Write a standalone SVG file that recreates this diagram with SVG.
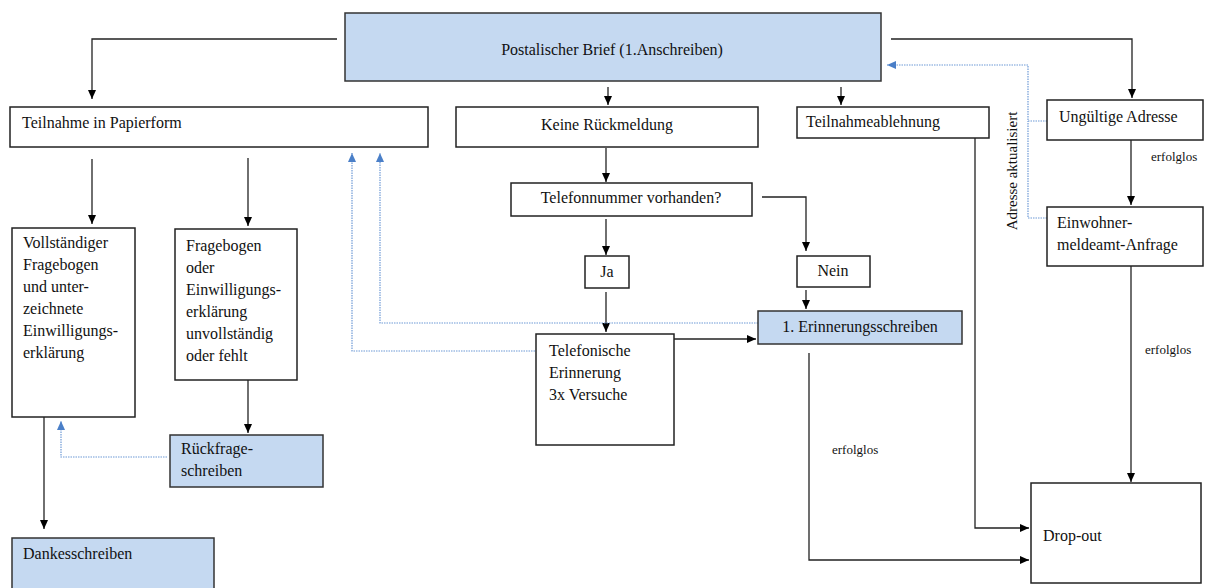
<svg xmlns="http://www.w3.org/2000/svg" width="1212" height="588" viewBox="0 0 1212 588">
<defs>
<marker id="ah" markerWidth="10" markerHeight="10" refX="9" refY="5" orient="auto" markerUnits="userSpaceOnUse"><path d="M0,1 L9,5 L0,9 Z" fill="#000"/></marker>
<marker id="bh" markerWidth="10" markerHeight="10" refX="9" refY="5" orient="auto" markerUnits="userSpaceOnUse"><path d="M0,1 L9,5 L0,9 Z" fill="#4a7fc8"/></marker>
</defs>
<style>
text{font-family:"Liberation Serif","Times New Roman",serif;font-size:16px;fill:#111}
.w{fill:#fff;stroke:#222;stroke-width:1.5}
.b{fill:#c5d9f1;stroke:#333;stroke-width:1.5}
.c{fill:none;stroke:#222;stroke-width:1.3}
.a{marker-end:url(#ah)}
.d{fill:none;stroke:#6e9ad6;stroke-width:1.2;stroke-dasharray:1.5 1}
.s{font-size:13px}
.r{font-size:15px}
.m{text-anchor:middle}
</style>
<rect width="1212" height="588" fill="#fff"/>
<g id="connectors">
<path class="c a" d="M337,39 H92 V99"/>
<path class="c a" d="M891,39 H1132 V98"/>
<path class="c a" d="M608,87 V105"/>
<path class="c a" d="M841,87 V105"/>
<path class="c a" d="M92,159 V224"/>
<path class="c a" d="M248,158 V226"/>
<path class="c a" d="M606,148 V182"/>
<path class="c a" d="M606,219 V255"/>
<path class="c a" d="M762,197 H806 V251"/>
<path class="c a" d="M606,292 V332"/>
<path class="c a" d="M806,290 V309"/>
<path class="c a" d="M674,339 V339 H756"/>
<path class="c a" d="M809,353 V560 H1029"/>
<path class="c a" d="M975,138 V528 H1029"/>
<path class="c a" d="M1131,140 V205"/>
<path class="c a" d="M1131,266 V482"/>
<path class="c a" d="M248,380 V433"/>
<path class="c a" d="M44,417 V529"/>
<path class="d" d="M758,323 H380 V153" marker-end="url(#bh)"/>
<path class="d" d="M535,351 H352 V153" marker-end="url(#bh)"/>
<path class="d" d="M167,457 H61 V421" marker-end="url(#bh)"/>
<path class="d" d="M1047,121 H1028 V65 H887" marker-end="url(#bh)"/>
<path class="d" d="M1047,218 H1028 V121"/>
<text class="s" x="832" y="454">erfolglos</text>
<text class="s" x="1151" y="161">erfolglos</text>
<text class="s" x="1145" y="354">erfolglos</text>
<text class="r m" x="0" y="0" transform="translate(1017,171) rotate(-90)">Adresse aktualisiert</text>
</g>
<g id="n-brief"><rect class="b" x="345" y="13" width="536" height="68"/><text class="m" x="612" y="55">Postalischer Brief (1.Anschreiben)</text></g>
<g id="n-papier"><rect class="w" x="10" y="107" width="418" height="40"/><text x="22" y="128">Teilnahme in Papierform</text></g>
<g id="n-keine"><rect class="w" x="456" y="107" width="302" height="40"/><text class="m" x="607" y="130">Keine Rückmeldung</text></g>
<g id="n-ablehnung"><rect class="w" x="797" y="107" width="192" height="31"/><text x="806" y="127">Teilnahmeablehnung</text></g>
<g id="n-ungueltig"><rect class="w" x="1047" y="100" width="156" height="40"/><text x="1059" y="122">Ungültige Adresse</text></g>
<g id="n-einwohner"><rect class="w" x="1047" y="207" width="156" height="59"/><text x="1057" y="228">Einwohner-</text><text x="1057" y="250">meldeamt-Anfrage</text></g>
<g id="n-telnr"><rect class="w" x="511" y="183" width="241" height="33"/><text class="m" x="631" y="203">Telefonnummer vorhanden?</text></g>
<g id="n-ja"><rect class="w" x="585" y="256" width="44" height="32"/><text class="m" x="607" y="277">Ja</text></g>
<g id="n-nein"><rect class="w" x="797" y="256" width="73" height="31"/><text class="m" x="833" y="276">Nein</text></g>
<g id="n-erinnerung"><rect class="b" x="758" y="311" width="204" height="33"/><text class="m" x="860" y="332">1. Erinnerungsschreiben</text></g>
<g id="n-telefon"><rect class="w" x="536" y="334" width="138" height="111"/><text x="549" y="356">Telefonische</text><text x="549" y="378">Erinnerung</text><text x="549" y="400">3x Versuche</text></g>
<g id="n-vollst"><rect class="w" x="12" y="228" width="123" height="189"/><text x="23" y="248">Vollständiger</text><text x="23" y="270">Fragebogen</text><text x="23" y="292">und unter-</text><text x="23" y="314">zeichnete</text><text x="23" y="336">Einwilligungs-</text><text x="23" y="358">erklärung</text></g>
<g id="n-frage"><rect class="w" x="175" y="229" width="122" height="151"/><text x="186" y="251">Fragebogen</text><text x="186" y="273">oder</text><text x="186" y="295">Einwilligungs-</text><text x="186" y="317">erklärung</text><text x="186" y="339">unvollständig</text><text x="186" y="361">oder fehlt</text></g>
<g id="n-rueckfrage"><rect class="b" x="170" y="435" width="153" height="52"/><text x="181" y="454">Rückfrage-</text><text x="181" y="476">schreiben</text></g>
<g id="n-dank"><rect class="b" x="12" y="538" width="202" height="60"/><text x="23" y="559">Dankesschreiben</text></g>
<g id="n-dropout"><rect class="w" x="1031" y="483" width="170" height="100"/><text x="1043" y="541">Drop-out</text></g>
</svg>
